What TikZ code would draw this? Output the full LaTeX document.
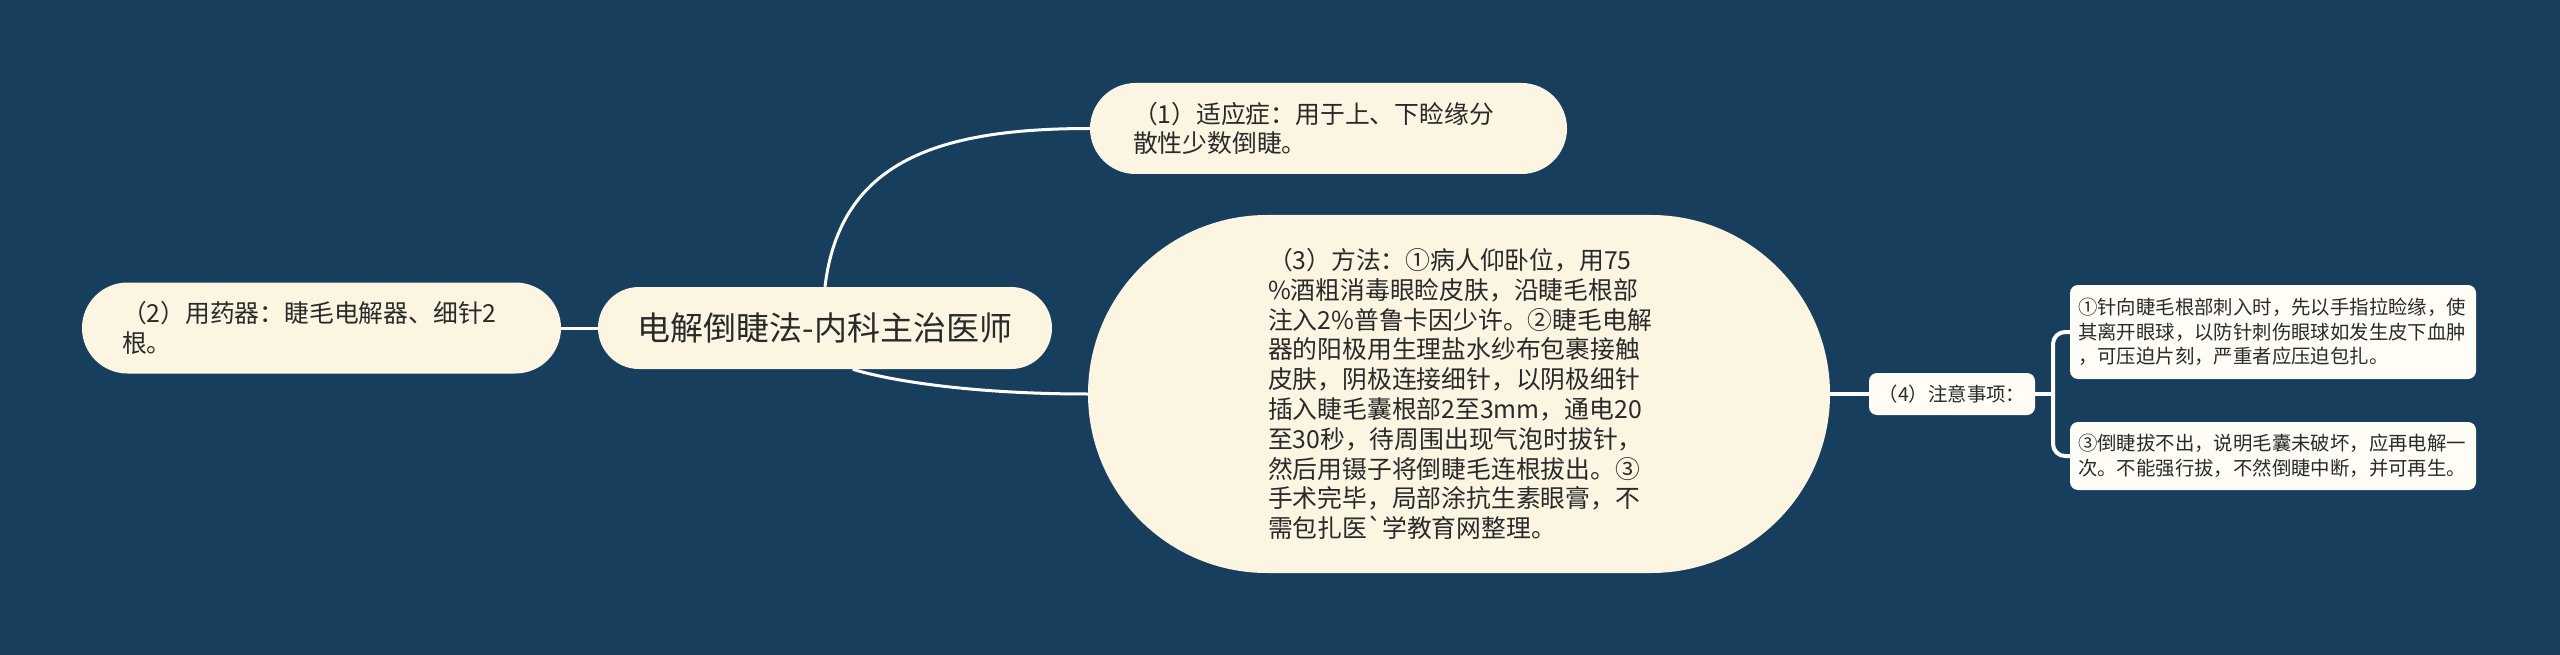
\documentclass[tikz,border=0pt]{standalone}
\usepackage{fontspec}
\setmainfont{Noto Sans CJK SC}
\newfontfamily\cjk{Noto Sans CJK SC}
\definecolor{bgc}{HTML}{183E5E}
\definecolor{cream}{HTML}{FBF5E1}
\definecolor{leafc}{HTML}{FFFDF6}
\definecolor{inkc}{HTML}{2A2A2A}
\pgfdeclarelayer{linklayer}
\pgfsetlayers{linklayer,main}
\tikzset{
  box/.style={fill=cream, draw=none, inner sep=0pt, text=inkc, align=left, font=\cjk\fontsize{24.8pt}{29.8pt}\selectfont},
  leafbox/.style={fill=leafc, draw=none, inner sep=0pt, text=inkc, align=left, rounded corners=8pt, font=\cjk\fontsize{19.4pt}{24.5pt}\selectfont},
  link/.style={draw=white, line width=3pt},
  branch/.style={draw=white, line width=4pt},
}
\begin{document}
\begin{tikzpicture}[x=1pt,y=-1pt]
\begin{pgfonlayer}{linklayer}
\fill[bgc] (0,0) rectangle (2560,655);
\end{pgfonlayer}
\useasboundingbox (0,0) rectangle (2560,655);

% nodes
\node[box, minimum width=454pt, minimum height=82pt, rounded corners=41pt, align=center,
      font=\cjk\fontsize{33pt}{38pt}\selectfont] (root) at (825,328) {电解倒睫法-内科主治医师};
\node[box, minimum width=477pt, minimum height=91pt, rounded corners=45.5pt, text width=391pt] (n1) at (1328.5,128.5)
  {（1）适应症：用于上、下睑缘分\\散性少数倒睫。};
\node[box, minimum width=479pt, minimum height=91pt, rounded corners=45.5pt, text width=399pt] (n2) at (321.5,328)
  {（2）用药器：睫毛电解器、细针2\\根。};
\node[box, minimum width=742pt, minimum height=358pt, rounded corners=179pt, text width=382pt] (n3) at (1459,394)
  {（3）方法：①病人仰卧位，用75\\
   \%酒粗消毒眼睑皮肤，沿睫毛根部\\
   注入2\%普鲁卡因少许。②睫毛电解\\
   器的阳极用生理盐水纱布包裹接触\\
   皮肤，阴极连接细针，以阴极细针\\
   插入睫毛囊根部2至3mm，通电20\\
   至30秒，待周围出现气泡时拔针，\\
   然后用镊子将倒睫毛连根拔出。③\\
   手术完毕，局部涂抗生素眼膏，不\\
   需包扎医\symbol{96}学教育网整理。};
\node[leafbox, minimum width=166pt, minimum height=42pt, align=center] (n4) at (1952,394) {（4）注意事项：};
\node[leafbox, minimum width=406pt, minimum height=94pt, text width=390pt] (l1) at (2273,332)
  {①针向睫毛根部刺入时，先以手指拉睑缘，使\\其离开眼球，以防针刺伤眼球如发生皮下血肿\\，可压迫片刻，严重者应压迫包扎。};
\node[leafbox, minimum width=406pt, minimum height=68pt, text width=390pt] (l3) at (2273,456)
  {③倒睫拔不出，说明毛囊未破坏，应再电解一\\次。不能强行拔，不然倒睫中断，并可再生。};

\coordinate (j) at (2053,394);

% connectors (behind the nodes)
\begin{pgfonlayer}{linklayer}
\draw[link] (root.north) .. controls (840,160) and (940,128.5) .. (n1.west);
\draw[link] (root.-56) .. controls (880,378) and (960,394) .. (n3.west);
\draw[link] (n2.east) -- (root.west);
\draw[branch] (n3.east) -- (n4.west);
\draw[branch] (n4.east) -- (j);
\draw[branch, rounded corners=12pt] (j) |- (l1.west);
\draw[branch, rounded corners=12pt] (j) |- (l3.west);
\end{pgfonlayer}
\end{tikzpicture}
\end{document}
